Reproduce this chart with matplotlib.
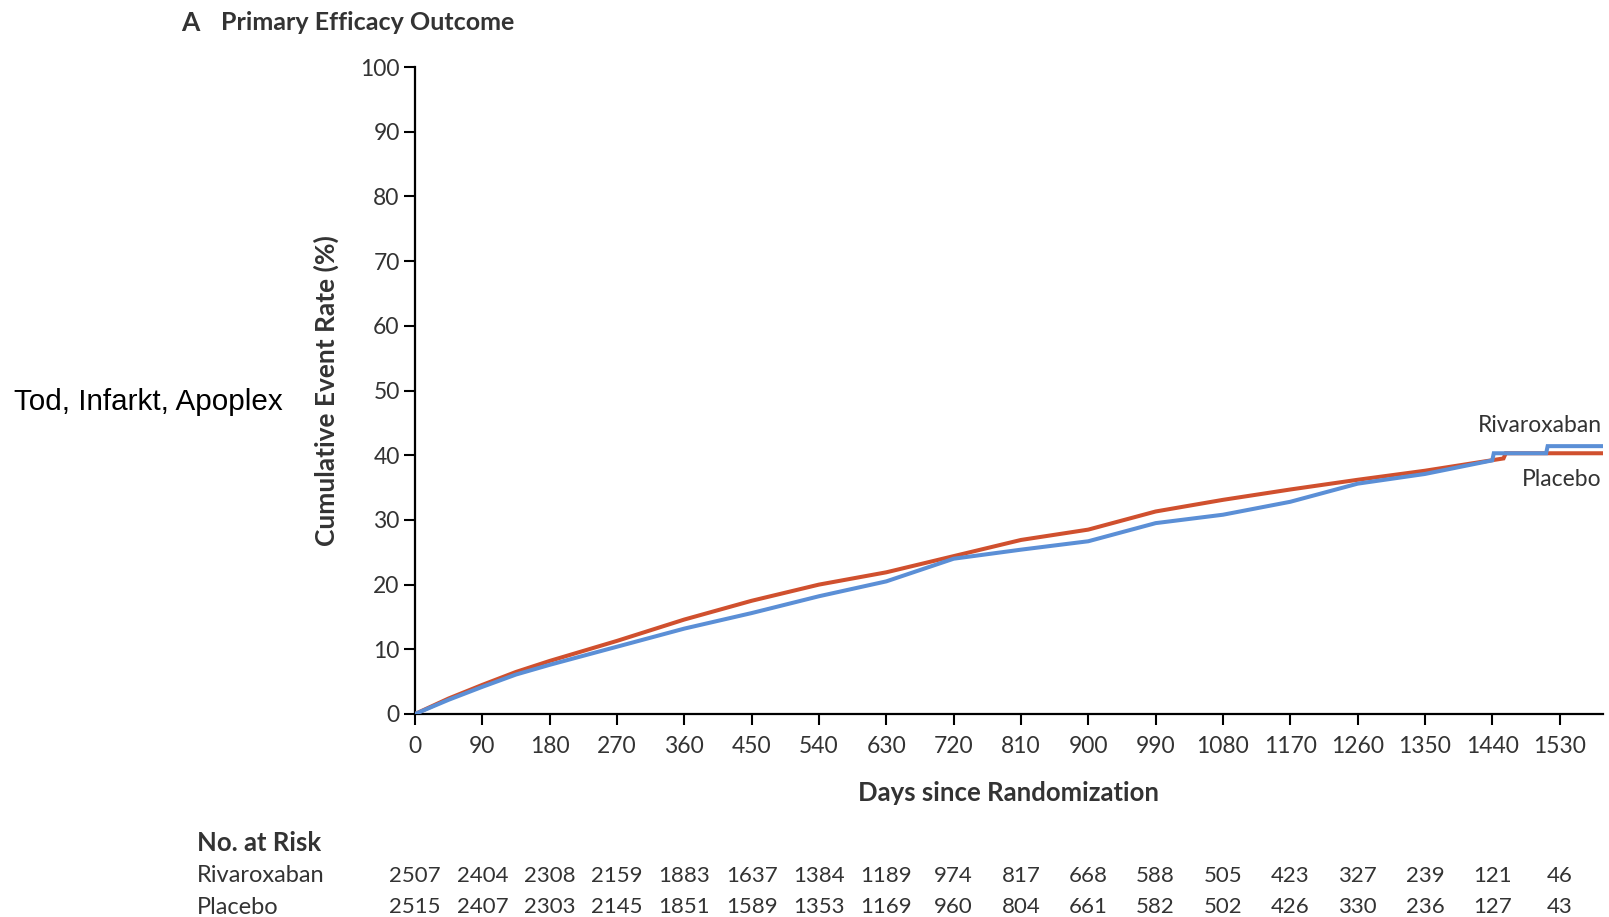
import matplotlib
matplotlib.use("Agg")
import matplotlib.pyplot as plt
import matplotlib.transforms as mtransforms

# Kaplan-Meier style cumulative event rates (%) by day since randomization
placebo_days = [0, 45, 90, 135, 180, 270, 360, 450, 540, 630, 720, 810, 900, 990,
                1080, 1170, 1260, 1350, 1455, 1458, 1588]
placebo_rate = [0.0, 2.4, 4.5, 6.5, 8.2, 11.3, 14.6, 17.5, 20.0, 21.9, 24.4, 26.9, 28.5, 31.3,
                33.1, 34.7, 36.2, 37.6, 39.5, 40.3, 40.3]

rivaroxaban_days = [0, 45, 90, 135, 180, 270, 360, 450, 540, 630, 720, 810, 900, 990,
                    1080, 1170, 1260, 1350, 1440, 1442, 1512, 1514, 1588]
rivaroxaban_rate = [0.0, 2.2, 4.2, 6.1, 7.6, 10.4, 13.2, 15.6, 18.2, 20.5, 24.0, 25.4, 26.7, 29.5,
                    30.8, 32.8, 35.6, 37.1, 39.2, 40.3, 40.3, 41.4, 41.4]

# Number at risk table
risk_days = [0, 90, 180, 270, 360, 450, 540, 630, 720, 810, 900, 990,
             1080, 1170, 1260, 1350, 1440, 1530]
risk_rivaroxaban = [2507, 2404, 2308, 2159, 1883, 1637, 1384, 1189, 974, 817,
                    668, 588, 505, 423, 327, 239, 121, 46]
risk_placebo = [2515, 2407, 2303, 2145, 1851, 1589, 1353, 1169, 960, 804,
                661, 582, 502, 426, 330, 236, 127, 43]

x_ticks = risk_days
y_ticks = list(range(0, 101, 10))

RED = "#D0502E"
BLUE = "#5B8FD6"
TXT = "#333333"

plt.rcParams["font.family"] = ["Lato", "DejaVu Sans"]

W, H = 1609, 917
fig = plt.figure(figsize=(W / 100, H / 100), dpi=100)
ax = fig.add_axes([415 / W, 1 - 714 / H, (1603 - 415) / W, (714 - 67) / H])

ax.plot(placebo_days, placebo_rate, color=RED, lw=2.9, solid_joinstyle="miter", zorder=3)
ax.plot(rivaroxaban_days, rivaroxaban_rate, color=BLUE, lw=2.9, solid_joinstyle="miter", zorder=4)

ax.set_xlim(0, 1588)
ax.set_ylim(0, 100)
ax.set_xticks(x_ticks)
ax.set_yticks(y_ticks)
ax.tick_params(axis="both", direction="out", length=8, width=1.5, colors="black",
               labelcolor=TXT, labelsize=16.5, pad=3)
ax.tick_params(axis="x", pad=8)
for s in ("top", "right"):
    ax.spines[s].set_visible(False)
for s in ("left", "bottom"):
    ax.spines[s].set_linewidth(1.6)
ax.patch.set_alpha(0)

ax.set_xlabel("Days since Randomization", fontsize=18.5, fontweight="bold", color=TXT, labelpad=17)
ax.set_ylabel("Cumulative Event Rate (%)", fontsize=19, fontweight="bold", color=TXT, labelpad=15)

# Series labels at the right end of the curves
ax.text(1586, 44.6, "Rivaroxaban", ha="right", va="center", fontsize=16.5, color=TXT)
ax.text(1586, 36.3, "Placebo", ha="right", va="center", fontsize=16.5, color=TXT)

# Panel title
fig.text(181 / W, 1 - 23 / H, "A", fontsize=19, fontweight="bold", color=TXT, va="center")
fig.text(221 / W, 1 - 23 / H, "Primary Efficacy Outcome", fontsize=18, fontweight="bold",
         color=TXT, va="center")

# Side annotation
fig.text(14 / W, 1 - 402 / H, "Tod, Infarkt, Apoplex", fontsize=21.3,
         family=["Liberation Sans", "DejaVu Sans"], color="black", va="center")

# Number-at-risk table
trans = mtransforms.blended_transform_factory(ax.transData, fig.transFigure)
fig.text(197 / W, 1 - 843 / H, "No. at Risk", fontsize=18.5, fontweight="bold", color=TXT, va="center")
fig.text(197 / W, 1 - 876 / H, "Rivaroxaban", fontsize=17, color=TXT, va="center")
fig.text(197 / W, 1 - 907 / H, "Placebo", fontsize=17, color=TXT, va="center")
for d, r, p in zip(risk_days, risk_rivaroxaban, risk_placebo):
    ax.text(d, 1 - 876 / H, str(r), transform=trans, ha="center", va="center",
            fontsize=16, color=TXT, clip_on=False)
    ax.text(d, 1 - 907 / H, str(p), transform=trans, ha="center", va="center",
            fontsize=16, color=TXT, clip_on=False)

fig.savefig("out.png", dpi=100)
